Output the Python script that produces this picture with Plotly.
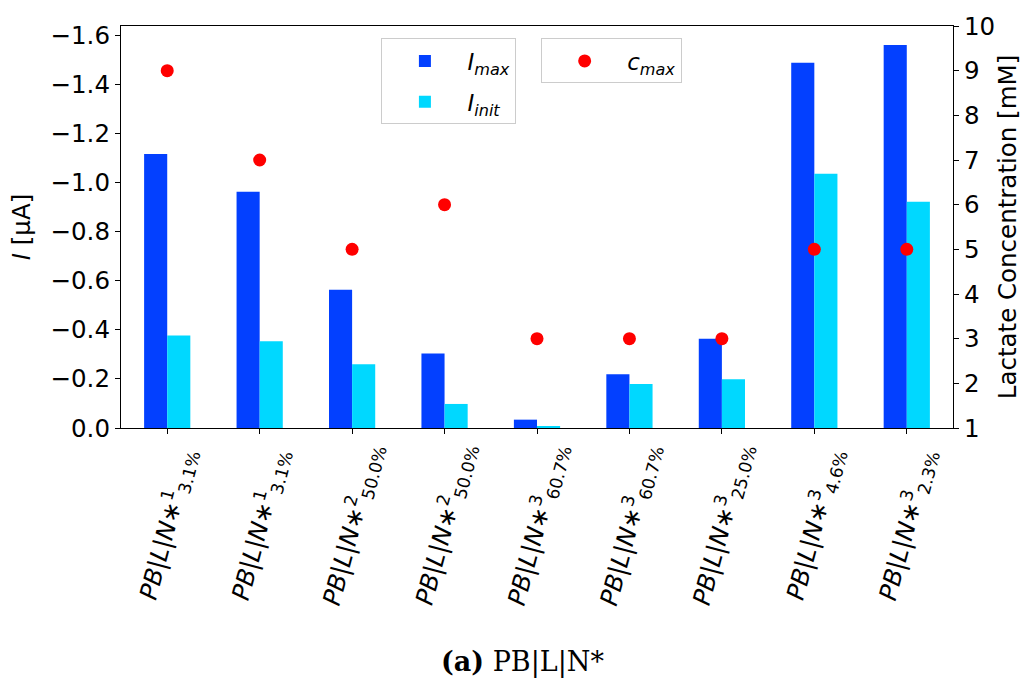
import plotly.graph_objects as go

# Electrode configurations (x categories)
base_labels = ["PB|L|N", "PB|L|N", "PB|L|N", "PB|L|N", "PB|L|N",
               "PB|L|N", "PB|L|N", "PB|L|N", "PB|L|N"]
label_sup = ["1", "1", "2", "2", "3", "3", "3", "3", "3"]
label_sub = ["3.1%", "3.1%", "50.0%", "50.0%", "60.7%", "60.7%", "25.0%", "4.6%", "2.3%"]

# Currents in µA (cathodic, negative)
i_max = [-1.116, -0.963, -0.563, -0.304, -0.034, -0.219, -0.364, -1.488, -1.561]
i_init = [-0.377, -0.353, -0.260, -0.098, -0.006, -0.179, -0.199, -1.036, -0.922]

# Maximum lactate concentration in mM
c_max = [9, 7, 5, 6, 3, 3, 3, 5, 5]

BLUE = "#0340ff"
CYAN = "#00d8ff"
RED = "#ff0000"
FONT = "DejaVu Sans"
FS = 24.5

pos = list(range(len(i_max)))

fig = go.Figure()
fig.add_trace(go.Bar(
    x=pos, y=i_max, width=0.25, offset=-0.25, marker_color=BLUE,
    marker_line_width=0, name="<i>I<sub>max</sub></i>", legend="legend",
    legendgroup="imax",
))
fig.add_trace(go.Bar(
    x=pos, y=i_init, width=0.25, offset=0.0, marker_color=CYAN,
    marker_line_width=0, name="<i>I<sub>init</sub></i>", legend="legend",
    legendgroup="iinit",
))
fig.add_trace(go.Scatter(
    x=pos, y=c_max, yaxis="y2", mode="markers",
    marker=dict(color=RED, size=13), name="<i>c<sub>max</sub></i>",
    legend="legend2",
))

# Rotated category labels, centred under each tick
for i in pos:
    txt = f"<i>{base_labels[i]}</i>∗<sup>{label_sup[i]}</sup><sub>{label_sub[i]}</sub>"
    fig.add_annotation(
        x=i, xref="x", y=-0.24, yref="paper", text=txt, textangle=-75,
        showarrow=False, xanchor="center", yanchor="middle",
        font=dict(family=FONT, size=FS, color="black"),
    )

# Figure caption
fig.add_annotation(
    x=0.482, xref="paper", y=-0.582, yref="paper",
    text="<b>(a)</b> PB|L|N*", showarrow=False,
    xanchor="center", yanchor="middle",
    font=dict(family="DejaVu Serif", size=27, color="black"),
)

axis_common = dict(
    showline=True, linecolor="black", linewidth=1.2,
    ticks="outside", ticklen=5, tickwidth=1.2, tickcolor="black",
    showgrid=False, zeroline=False,
    tickfont=dict(family=FONT, size=FS, color="black"),
)

legend_common = dict(
    xanchor="left", yanchor="top",
    bgcolor="white", bordercolor="#cccccc", borderwidth=1,
    font=dict(family=FONT, size=23, color="black"),
    itemwidth=75, tracegroupgap=8, traceorder="grouped",
)

fig.update_layout(
    width=1033, height=684,
    margin=dict(l=121, r=80, t=23, b=256),
    plot_bgcolor="white", paper_bgcolor="white",
    barmode="overlay",
    xaxis=dict(
        range=[-0.5, 8.5], tickvals=pos, showticklabels=False,
        mirror=True, **axis_common,
    ),
    yaxis=dict(
        range=[0, -1.638], tick0=0, dtick=0.2, tickformat=".1f",
        title=dict(text="<i>I</i> [µA]", font=dict(family=FONT, size=FS, color="black"), standoff=12),
        **axis_common,
    ),
    yaxis2=dict(
        range=[1, 10], dtick=1, overlaying="y", side="right",
        title=dict(text="Lactate Concentration [mM]", font=dict(family=FONT, size=FS, color="black"), standoff=4),
        **axis_common,
    ),
    legend=dict(x=0.313, y=0.969, **legend_common),
    legend2=dict(x=0.505, y=0.969, **legend_common),
    showlegend=True,
)

fig.write_html("out.html")
